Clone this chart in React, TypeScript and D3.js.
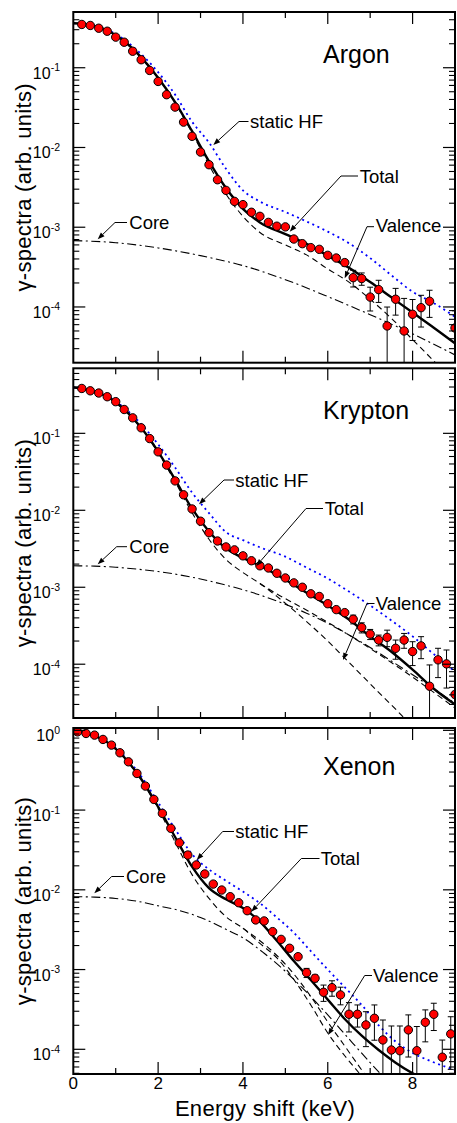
import React from 'react';
import * as d3 from 'd3';

const FONT = "'Liberation Sans', Arial, Helvetica, sans-serif";

// ---------------- Argon ----------------
const arPtE = [0.2,0.4,0.6,0.8,1.0,1.2,1.4,1.6,1.8,2.0,2.2,2.4,2.6,2.8,3.0,3.2,3.4,3.6,3.8,4.0,4.2,4.4,4.6,4.8,5.0,5.2,5.4,5.6,5.8,6.0,6.2,6.4,6.6,6.8,7.0,7.2,7.4,7.6,7.8,8.0,8.2,8.4,9.0];
const arPtV = [0.349,0.339,0.313,0.287,0.242,0.209,0.161,0.126,0.0925,0.0673,0.0459,0.0321,0.0208,0.0138,0.00876,0.00608,0.00394,0.0029,0.00211,0.00192,0.00154,0.00137,0.00115,0.00103,0.00101,0.000711,0.000622,0.000555,0.000528,0.000444,0.000411,0.00036,0.000233,0.000227,0.000133,0.000165,5.78e-5,0.000125,5.0e-5,8.1e-5,9.8e-5,0.000118,5.45e-5];
const arPtErr = [0,0,0,0,0,0,0,0,0,0,0,0,0,0,0,0,0,0,0,0,0,0,0,0,0,1.2e-5,1.4e-5,1.6e-5,1.8e-5,2.2e-5,2.6e-5,3.4e-5,5.5e-5,4.0e-5,4.4e-5,5.1e-5,4.2e-5,4.6e-5,7.8e-5,4.3e-5,4.2e-5,4.4e-5,3.5e-5];
const arCurveE = [0,0.4,0.8,1.2,1.6,2.0,2.4,2.8,3.2,3.6,4.0,4.4,5.0,5.5,6.0,6.5,7.0,7.5,8.0,8.5,9.0];
const arTotal = [0.362,0.345,0.295,0.215,0.135,0.075,0.037,0.016,0.0067,0.0031,0.0017,0.00115,0.00082,0.00062,0.00044,0.00031,0.000205,0.000132,8.5e-5,5.5e-5,3.5e-5];
const arHF = [0.362,0.347,0.30,0.225,0.148,0.088,0.046,0.021,0.0115,0.0054,0.0029,0.0021,0.00155,0.00118,0.00088,0.00063,0.00041,0.00025,0.000155,0.000112,7.5e-5];
const arValence = [0.361,0.344,0.294,0.214,0.134,0.074,0.0362,0.0152,0.006,0.0026,0.00137,0.00086,0.0006,0.00045,0.0003,0.000205,0.000125,7.2e-5,3.9e-5,2.1e-5,1.1e-5];
const arCoreE = [0,1,2,3,4,5,6,7,8,9];
const arCore = [6.8e-4,6.4e-4,5.5e-4,4.4e-4,3.3e-4,2.2e-4,1.35e-4,8.0e-5,4.6e-5,2.5e-5];

// ---------------- Krypton ----------------
const krPtE = [0.2,0.4,0.6,0.8,1.0,1.2,1.4,1.6,1.8,2.0,2.2,2.4,2.6,2.8,3.0,3.2,3.4,3.6,3.8,4.0,4.2,4.4,4.6,4.8,5.0,5.2,5.4,5.6,5.8,6.0,6.2,6.4,6.6,6.8,7.0,7.2,7.4,7.6,7.8,8.0,8.2,8.4,8.6,8.8,9.0];
const krPtV = [0.383,0.357,0.334,0.299,0.258,0.204,0.159,0.118,0.0855,0.0575,0.0387,0.0241,0.0159,0.0104,0.00721,0.00512,0.00399,0.00334,0.00306,0.00256,0.00221,0.0019,0.00178,0.00152,0.00132,0.00114,0.001,0.000822,0.000759,0.000611,0.000512,0.000468,0.000384,0.0003,0.000246,0.000206,0.000223,0.000161,0.000206,0.000146,0.000173,5.18e-5,0.000114,0.000101,4.04e-5];
const krPtErr = [0,0,0,0,0,0,0,0,0,0,0,0,0,0,0,0,0,0,0,0,0,0,0,0,0,0,0,0,0,2.0e-5,2.5e-5,3.0e-5,5.0e-5,4.5e-5,3.7e-5,3.3e-5,5.4e-5,4.5e-5,4.5e-5,5.0e-5,5.5e-5,4.6e-5,4.7e-5,5.2e-5,4.5e-5];
const krCurveE = [0,0.4,0.8,1.2,1.6,2.0,2.4,2.8,3.2,3.6,4.0,4.4,5.0,5.5,6.0,6.5,7.0,7.5,8.0,8.5,9.0];
const krTotal = [0.395,0.36,0.30,0.205,0.118,0.058,0.025,0.0105,0.0053,0.0032,0.0024,0.0019,0.00125,0.00085,0.00058,0.00038,0.00023,0.000145,8.5e-5,4.8e-5,3.0e-5];
const krHF = [0.395,0.362,0.305,0.215,0.132,0.072,0.036,0.017,0.0092,0.0052,0.0041,0.0033,0.0025,0.0018,0.0013,0.00088,0.00058,0.00037,0.00023,0.000135,8e-5];
const krValE = [0,0.4,0.8,1.2,1.6,2.0,2.4,2.8,3.2,3.6,4.0,4.4,4.8,5.2,5.6,6.0,6.4,6.8,7.2,7.6,8.0];
const krValence = [0.393,0.358,0.298,0.203,0.116,0.056,0.0235,0.0093,0.0042,0.0023,0.00155,0.00112,0.00076,0.0005,0.00032,0.0002,0.00012,7.2e-5,4.3e-5,2.6e-5,1.55e-5];
const krVal2E = [4.4,4.8,5.2,5.6,6.0,6.5,7.0,7.5,8.0,8.5,9.0];
const krValence2 = [0.00112,0.00082,0.00062,0.00047,0.00035,0.00024,0.00016,0.000105,6.8e-5,4.3e-5,2.7e-5];
const krCoreE = [0,0.5,1,1.5,2,2.5,3,3.5,4,4.5,5,5.5,6,6.5,7,7.5,8,8.5,9];
const krCore = [0.0019,0.00188,0.00182,0.00172,0.0016,0.00145,0.00128,0.0011,0.00093,0.00076,0.0006,0.00046,0.00034,0.00024,0.000165,0.00011,7.3e-5,4.8e-5,3.1e-5];

// ---------------- Xenon ----------------
const xePtE = [0.1,0.3,0.5,0.7,0.9,1.1,1.3,1.5,1.7,1.9,2.1,2.3,2.5,2.7,2.9,3.1,3.3,3.5,3.7,3.9,4.1,4.3,4.5,4.7,4.9,5.1,5.3,5.5,5.7,5.9,6.1,6.3,6.5,6.7,6.9,7.1,7.3,7.5,7.7,7.9,8.1,8.3,8.5,8.7,8.9];
const xePtV = [0.957,0.914,0.871,0.769,0.653,0.523,0.403,0.288,0.2,0.136,0.0909,0.059,0.0389,0.0273,0.0205,0.0158,0.0118,0.00994,0.0082,0.00689,0.00547,0.00419,0.00407,0.00299,0.00239,0.00185,0.00145,0.000914,0.000778,0.000519,0.000593,0.000481,0.000275,0.000275,0.000202,0.000245,0.000131,9.8e-5,9.6e-5,0.000175,9.6e-5,0.000218,0.000275,7.96e-5,0.000156];
const xePtErr = [0,0,0,0,0,0,0,0,0,0,0,0,0,0,0,0,0,0,0,0,0,0,0,0,0,5e-5,6e-5,1.2e-4,7.7e-5,1.2e-4,1.3e-4,1.2e-4,1.1e-4,8.5e-5,9.4e-5,1.15e-4,1.02e-4,9.8e-5,1.0e-4,9.5e-5,9.7e-5,9.4e-5,1.03e-4,5.1e-5,1.0e-4];
const xeCurveE = [0,0.4,0.8,1.2,1.6,2.0,2.4,2.8,3.2,3.6,4.0,4.4,4.8,5.2,5.6,6.0,6.4,6.8,7.2,7.6,8.0,8.4,9.0];
const xeTotal = [0.99,0.89,0.71,0.46,0.245,0.11,0.046,0.0195,0.0105,0.0076,0.0059,0.0040,0.0023,0.00128,0.00074,0.00042,0.00024,0.000148,9.8e-5,6.8e-5,5.0e-5,3.9e-5,2.8e-5];
const xeHF = [0.99,0.895,0.72,0.48,0.265,0.125,0.058,0.028,0.018,0.013,0.0095,0.0068,0.0045,0.0029,0.0017,0.001,0.0006,0.00036,0.0002,0.000125,9e-5,7.2e-5,5.5e-5];
const xeValE = [0,0.4,0.8,1.2,1.6,2.0,2.4,2.8,3.2,3.6,4.0,4.4,4.8,5.2,5.6,6.0,6.4,6.8,7.2];
const xeValence = [0.98,0.885,0.705,0.455,0.24,0.104,0.04,0.0155,0.0078,0.0046,0.0033,0.00213,0.0014,0.00075,0.00036,0.00016,8.3e-5,4.6e-5,2.5e-5];
const xeVal2E = [4.0,4.4,4.8,5.2,5.6,6.0,6.4,6.8,7.2];
const xeValence2 = [0.0033,0.0023,0.0015,0.00088,0.00046,0.00022,0.00011,5.5e-5,2.8e-5];
const xeCoreE = [0,0.5,1,1.5,2,2.5,3,3.65,4.0,4.5,5.0,5.5,6.0,6.5,7.0,7.5];
const xeCore = [0.0082,0.0081,0.0078,0.0072,0.0063,0.0055,0.0045,0.0031,0.0025,0.0016,0.00095,0.00052,0.00027,0.000135,6.8e-5,3.5e-5];

// ---------------- axis ticks ----------------
const xMajorTicks = [0, 2, 4, 6, 8];
const xMinorTicks = [1, 3, 5, 7, 9];

const zip = (e: number[], v: number[]) => e.map((x, i) => [x, v[i]] as [number, number]);

const X0 = 73.3;
const X1 = 455;

type Ann = { text: string; tx: number; ty: number; path: [number, number][] };

const panels = [
  {
    id: 'ar', title: 'Argon', top: 12, bottom: 362.7, dom: [2e-5, 0.5], titleY: 63,
    pts: { e: arPtE, v: arPtV, err: arPtErr },
    total: zip(arCurveE, arTotal), hf: zip(arCurveE, arHF),
    valence: [zip(arCurveE, arValence)], core: zip(arCoreE, arCore),
    ann: [
      { text: 'static HF', tx: 250, ty: 128, path: [[248.5, 121.5], [239, 121.5], [213.3, 145]] },
      { text: 'Total', tx: 359.7, ty: 182.7, path: [[358, 176], [341, 176], [289.7, 231.7]] },
      { text: 'Valence', tx: 375.7, ty: 231.7, path: [[374, 226.7], [367, 226.7], [344.7, 278.3]] },
      { text: 'Core', tx: 129.3, ty: 229, path: [[127, 222.5], [115, 222.5], [97.7, 239.3]] },
    ] as Ann[],
  },
  {
    id: 'kr', title: 'Krypton', top: 368.3, bottom: 718, dom: [2e-5, 0.7], titleY: 419,
    pts: { e: krPtE, v: krPtV, err: krPtErr },
    total: zip(krCurveE, krTotal), hf: zip(krCurveE, krHF),
    valence: [zip(krValE, krValence), zip(krVal2E, krValence2)], core: zip(krCoreE, krCore),
    ann: [
      { text: 'static HF', tx: 235.3, ty: 486.7, path: [[234, 480], [224, 480], [199, 504.3]] },
      { text: 'Total', tx: 324.7, ty: 515, path: [[323, 508.5], [306, 508.5], [256.3, 566]] },
      { text: 'Valence', tx: 375.7, ty: 610, path: [[374.5, 603.5], [367, 603.5], [343, 660]] },
      { text: 'Core', tx: 129.3, ty: 553.3, path: [[127, 546.7], [116.7, 546.7], [97.7, 564.3]] },
    ] as Ann[],
  },
  {
    id: 'xe', title: 'Xenon', top: 728, bottom: 1074, dom: [4.9e-5, 1.07], titleY: 775,
    pts: { e: xePtE, v: xePtV, err: xePtErr },
    total: zip(xeCurveE, xeTotal), hf: zip(xeCurveE, xeHF),
    valence: [zip(xeValE, xeValence), zip(xeVal2E, xeValence2)], core: zip(xeCoreE, xeCore),
    ann: [
      { text: 'static HF', tx: 235.3, ty: 838, path: [[234, 831.5], [222.7, 831.5], [196.7, 860]] },
      { text: 'Total', tx: 320.7, ty: 865, path: [[319.5, 858.5], [301.3, 858.5], [251.3, 911.7]] },
      { text: 'Valence', tx: 373, ty: 981.7, path: [[372, 975.5], [364.7, 975.5], [328, 1035]] },
      { text: 'Core', tx: 126, ty: 882.7, path: [[124, 876.5], [111.7, 876.5], [94.3, 893.3]] },
    ] as Ann[],
  },
];

function Arrow({ path }: { path: [number, number][] }) {
  const n = path.length;
  const [x2, y2] = path[n - 1];
  const [x1, y1] = path[n - 2];
  const ang = Math.atan2(y2 - y1, x2 - x1);
  const L = 7, W = 2.6;
  const bx = x2 - L * Math.cos(ang), by = y2 - L * Math.sin(ang);
  const px = -Math.sin(ang) * W, py = Math.cos(ang) * W;
  const line = path.slice(0, n - 1).concat([[bx, by]]);
  return (
    <g>
      <polyline points={line.map(p => p.join(',')).join(' ')} fill="none" stroke="#000" strokeWidth={1} />
      <polygon points={`${x2},${y2} ${bx + px},${by + py} ${bx - px},${by - py}`} fill="#000" />
    </g>
  );
}

function Panel({ p, last }: { p: typeof panels[number]; last: boolean }) {
  const x = d3.scaleLinear().domain([0, 9]).range([X0, X1]);
  const y = d3.scaleLog().domain(p.dom).range([p.bottom, p.top]);
  const line = d3.line<[number, number]>().x(d => x(d[0])).y(d => y(d[1])).curve(d3.curveMonotoneX);
  const clip = `clip-${p.id}`;
  const lo = Math.ceil(Math.log10(p.dom[0]));
  const hi = Math.floor(Math.log10(p.dom[1]));
  const majors: number[] = [];
  for (let k = lo; k <= hi; k++) majors.push(k);
  const minors: number[] = [];
  for (let k = lo - 1; k <= hi; k++) {
    for (let m = 2; m <= 9; m++) {
      const v = m * Math.pow(10, k);
      if (v > p.dom[0] && v < p.dom[1]) minors.push(v);
    }
  }
  const MAJ = 12, MIN = 6;
  const midY = (p.top + p.bottom) / 2;
  return (
    <g>
      <defs>
        <clipPath id={clip}>
          <rect x={X0} y={p.top} width={X1 - X0} height={p.bottom - p.top} />
        </clipPath>
      </defs>
      <g clipPath={`url(#${clip})`}>
        <path d={line(p.core) || ''} fill="none" stroke="#000" strokeWidth={1.1} strokeDasharray="9,3.5,2,3.5" />
        {p.valence.map((v, i) => (
          <path key={i} d={line(v) || ''} fill="none" stroke="#000" strokeWidth={1.1} strokeDasharray="6,4" />
        ))}
        <path d={line(p.hf) || ''} fill="none" stroke="#0000ff" strokeWidth={1.8} strokeDasharray="2,3.6" />
        <path d={line(p.total) || ''} fill="none" stroke="#000" strokeWidth={2.4} />
        {p.pts.e.map((e, i) => {
          const s = p.pts.err[i];
          if (!s) return null;
          const v = p.pts.v[i];
          const yt = y(v + s);
          const yb = v - s > p.dom[0] * 0.5 ? y(v - s) : p.bottom + 10;
          const cx = x(e);
          return (
            <g key={'e' + i} stroke="#000" strokeWidth={1}>
              <line x1={cx} x2={cx} y1={yt} y2={yb} />
              <line x1={cx - 3} x2={cx + 3} y1={yt} y2={yt} />
              <line x1={cx - 3} x2={cx + 3} y1={yb} y2={yb} />
            </g>
          );
        })}
        {p.pts.e.map((e, i) => (
          <circle key={'c' + i} cx={x(e)} cy={y(p.pts.v[i])} r={4.2} fill="#ff0000" stroke="#000" strokeWidth={1} />
        ))}
      </g>
      {/* frame */}
      <rect x={X0} y={p.top} width={X1 - X0} height={p.bottom - p.top} fill="none" stroke="#000" strokeWidth={2} />
      {/* y ticks */}
      {majors.map(k => {
        const yy = y(Math.pow(10, k));
        return (
          <g key={'M' + k}>
            <line x1={X0} x2={X0 + MAJ} y1={yy} y2={yy} stroke="#000" strokeWidth={1.2} />
            <line x1={X1} x2={X1 - MAJ} y1={yy} y2={yy} stroke="#000" strokeWidth={1.2} />
            <text x={60} y={yy + 11} textAnchor="end" fontFamily={FONT} fontSize={16} fill="#000">
              <tspan>10</tspan>
              <tspan dy={-7.5} fontSize={10.5}>{k === 0 ? '0' : '-' + Math.abs(k)}</tspan>
            </text>
          </g>
        );
      })}
      {minors.map((v, i) => {
        const yy = y(v);
        return (
          <g key={'m' + i}>
            <line x1={X0} x2={X0 + MIN} y1={yy} y2={yy} stroke="#000" strokeWidth={1.1} />
            <line x1={X1} x2={X1 - MIN} y1={yy} y2={yy} stroke="#000" strokeWidth={1.1} />
          </g>
        );
      })}
      {/* x ticks */}
      {xMajorTicks.concat(xMinorTicks).map(t => {
        const len = xMajorTicks.includes(t) ? MAJ : MIN;
        const xx = x(t);
        if (xx <= X0 + 0.5 || xx >= X1 - 0.5) return null;
        return (
          <g key={'x' + t} stroke="#000" strokeWidth={1.2}>
            <line x1={xx} x2={xx} y1={p.bottom} y2={p.bottom - len} />
            <line x1={xx} x2={xx} y1={p.top} y2={p.top + len} />
          </g>
        );
      })}
      {last && xMajorTicks.map(t => (
        <text key={'xl' + t} x={x(t)} y={p.bottom + 15} textAnchor="middle" fontFamily={FONT} fontSize={17} fill="#000">{t}</text>
      ))}
      {/* y axis title */}
      <text transform={`translate(31,${midY}) rotate(-90)`} textAnchor="middle" fontFamily={FONT} fontSize={22} letterSpacing={0.3} fill="#000">γ-spectra (arb. units)</text>
      {/* title */}
      <text x={323} y={p.titleY} fontFamily={FONT} fontSize={25} fill="#000">{p.title}</text>
      {/* annotations */}
      {p.ann.map((a, i) => (
        <g key={'a' + i}>
          <text x={a.tx} y={a.ty} fontFamily={FONT} fontSize={18.5} fill="#000">{a.text}</text>
          <Arrow path={a.path} />
        </g>
      ))}
    </g>
  );
}

export default function App() {
  return (
    <svg width={457} height={1123} style={{ position: 'absolute', left: 0, top: 0, display: 'block', background: '#fff' }}>
      <rect x={0} y={0} width={457} height={1123} fill="#fff" />
      {panels.map((p, i) => (
        <Panel key={p.id} p={p} last={i === panels.length - 1} />
      ))}
      <text x={265} y={1116} textAnchor="middle" fontFamily={FONT} fontSize={22} letterSpacing={0.3} fill="#000">Energy shift (keV)</text>
    </svg>
  );
}
